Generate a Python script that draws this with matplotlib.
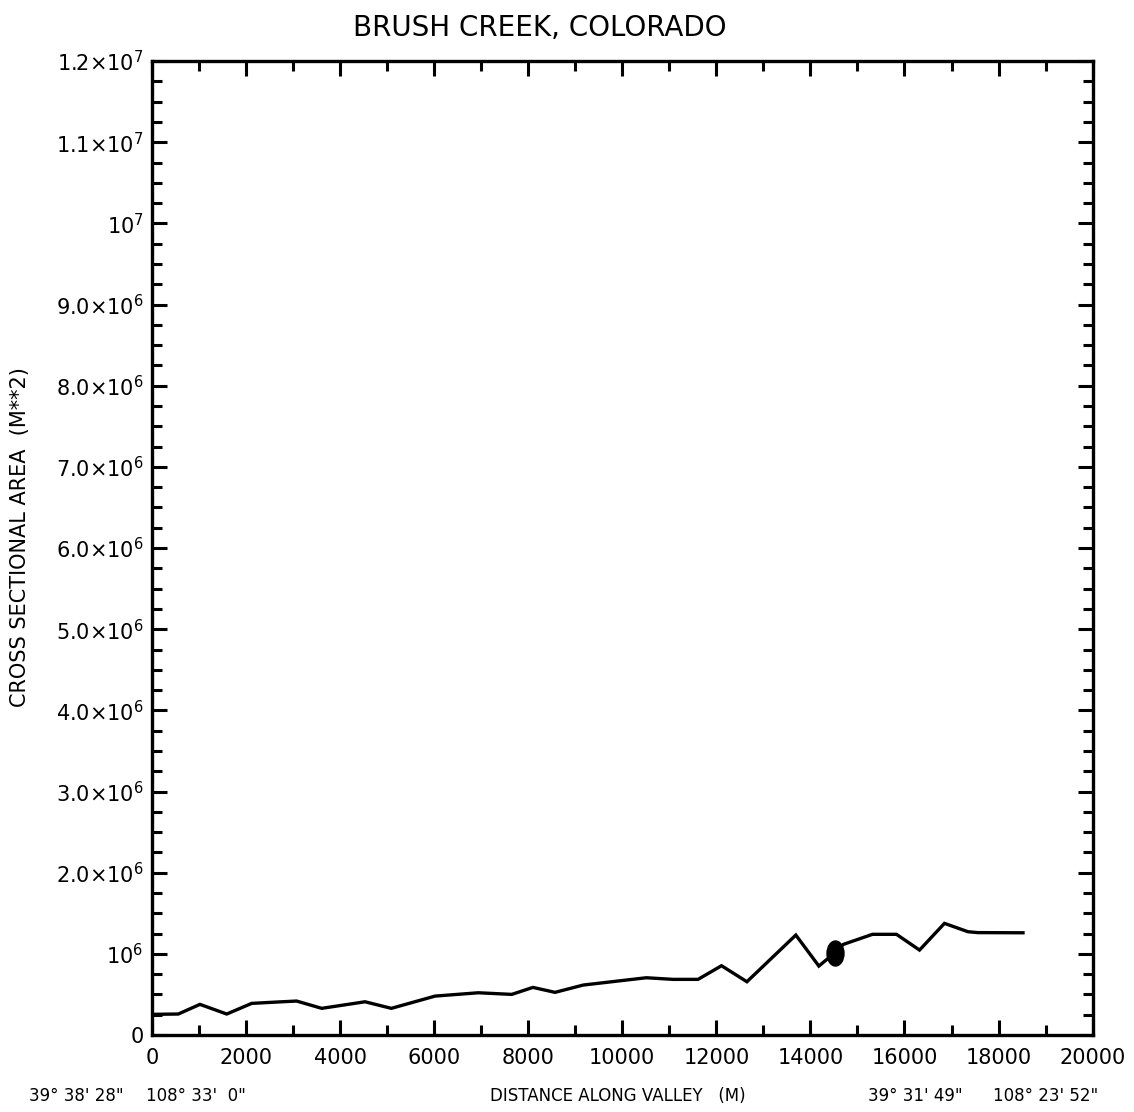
import matplotlib
matplotlib.use("Agg")
import matplotlib.pyplot as plt
from matplotlib.ticker import MultipleLocator, FuncFormatter
from matplotlib.markers import MarkerStyle
from matplotlib.path import Path
from matplotlib.transforms import Affine2D

# distance along valley (m) and cross sectional area (m**2)
distance = [0, 560, 1020, 1590, 2120, 2600, 3075, 3610, 4530, 5090,
            6020, 6940, 7650, 8100, 8570, 9170, 10510, 11080, 11610, 12110,
            12650, 13690, 14180, 14520, 14700, 15320, 15830, 16320, 16850,
            17350, 17560, 18520]
area = [255e3, 259e3, 378e3, 259e3, 390e3, 405e3, 419e3, 329e3, 410e3, 329e3,
        480e3, 521e3, 501e3, 587e3, 526e3, 616e3, 706e3, 686e3, 686e3, 854e3,
        657e3, 1.232e6, 850e3, 1.014e6, 1.117e6, 1.241e6, 1.241e6, 1.047e6, 1.376e6,
        1.273e6, 1.262e6, 1.260e6]

# marked station
mark_x = [14520]
mark_y = [1.014e6]

coord_labels = ["39\u00b0 38' 28\"", "108\u00b0 33'  0\"", "39\u00b0 31' 49\"", "108\u00b0 23' 52\""]
coord_pos = [0.067, 0.173, 0.807, 0.922]


def ylab(v, pos):
    if v == 0:
        return "0"
    exp = 0
    m = v
    while m >= 10:
        m /= 10.0
        exp += 1
    if abs(m - 1.0) < 1e-9:
        return r"$10^{%d}$" % exp
    return r"$%.1f{\times}10^{%d}$" % (m, exp)


fig = plt.figure(figsize=(11.34, 11.12), dpi=100)
ax = fig.add_axes([0.134, 0.0692, 0.8295, 0.8759])

ax.plot(distance, area, "k-", lw=2.4, solid_joinstyle="miter")
ell = MarkerStyle(Path.unit_circle().transformed(Affine2D().scale(0.68, 1.0)))
ax.plot(mark_x, mark_y, ls="none", marker=ell, ms=18, color="k")

ax.set_xlim(0, 20000)
ax.set_ylim(0, 1.2e7)
ax.xaxis.set_major_locator(MultipleLocator(2000))
ax.xaxis.set_minor_locator(MultipleLocator(1000))
ax.yaxis.set_major_locator(MultipleLocator(1e6))
ax.yaxis.set_minor_locator(MultipleLocator(2.5e5))
ax.yaxis.set_major_formatter(FuncFormatter(ylab))

ax.tick_params(which="both", direction="in", top=True, right=True, width=2.2)
ax.tick_params(which="major", length=11)
ax.tick_params(which="minor", length=7.5)
ax.tick_params(axis="x", labelsize=15, pad=9)
ax.tick_params(axis="y", labelsize=15, pad=6)
for s in ax.spines.values():
    s.set_linewidth(2.4)

ax.set_ylabel("CROSS SECTIONAL AREA  (M**2)", fontsize=15, labelpad=12)
ax.yaxis.set_label_coords(-0.13, 0.511)
fig.text(0.476, 0.975, "BRUSH CREEK, COLORADO", fontsize=20, ha="center", va="center")
fig.text(0.545, 0.014, "DISTANCE ALONG VALLEY   (M)", fontsize=12, ha="center", va="center")
for lab, xp in zip(coord_labels, coord_pos):
    fig.text(xp, 0.014, lab, fontsize=12, ha="center", va="center")

fig.savefig("out.png", dpi=100, facecolor="white")
